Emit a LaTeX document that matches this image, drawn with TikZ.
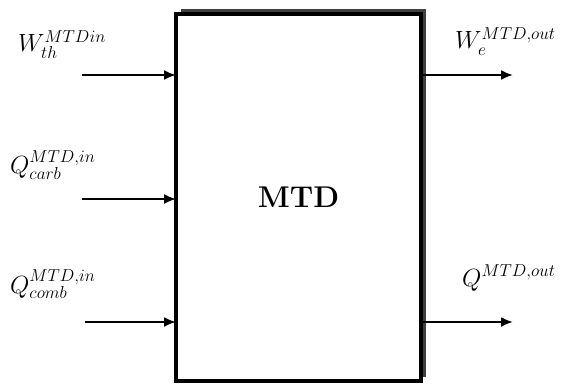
\documentclass[tikz,border=0pt]{standalone}
\usetikzlibrary{arrows.meta}
\begin{document}
\begin{tikzpicture}[x=1pt,y=1pt,
  boxstyle/.style={draw=black,line width=3.6pt,fill=white,minimum width=245pt,minimum height=367pt,inner sep=0pt,outer sep=0pt},
  shadowstyle/.style={fill=black!75,draw=none},
  flow/.style={line width=2.1pt,-{Latex[length=12pt,width=10pt]}},
  lbl/.style={inner sep=0pt,anchor=base west,font=\fontsize{25}{30}\selectfont},
  title/.style={font=\fontsize{30}{36}\selectfont\bfseries}]
\useasboundingbox (0,0) rectangle (572,383);
\fill[shadowstyle] (180.5,6) rectangle (425.5,373.5);
\node[boxstyle] (box) at (298.5,185.5) {};
\node[title] (t) at (box.center) {MTD};
% input free ends
\coordinate (i1) at (82,308);
\coordinate (i2) at (82,184);
\coordinate (i3) at (85,61);
\draw[flow] (i1) -- (i1 -| box.west);
\draw[flow] (i2) -- (i2 -| box.west);
\draw[flow] (i3) -- (i3 -| box.west);
% outputs
\coordinate (o1) at (513,308);
\coordinate (o2) at (513,61);
\draw[flow] (o1 -| box.east) -- (o1);
\draw[flow] (o2 -| box.east) -- (o2);
% labels
\node[lbl] (l1) at (18,331) {$W_{th}^{MTDin}$};
\node[lbl] (l2) at (10,209) {$Q_{carb}^{MTD,in}$};
\node[lbl] (l3) at (10,90) {$Q_{comb}^{MTD,in}$};
\node[lbl] (l4) at (455,334) {$W_{e}^{MTD,out}$};
\node[lbl] (l5) at (462,97) {$Q^{MTD,out}$};
\end{tikzpicture}
\end{document}
